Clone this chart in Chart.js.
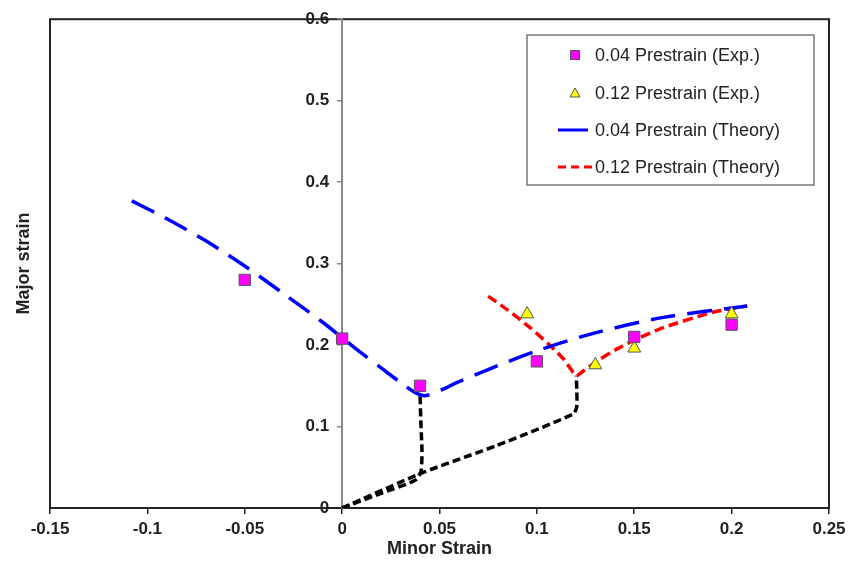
<!DOCTYPE html>
<html>
<head>
<meta charset="utf-8">
<script src="https://cdn.jsdelivr.net/npm/chart.js@4/dist/chart.umd.min.js"></script>
<style>
  html, body { margin: 0; padding: 0; background: #fff; }
  #wrap { width: 861px; height: 562px; }
</style>
</head>
<body>
<div id="wrap"><canvas id="c" width="861" height="562"></canvas></div>
<script>
// ---- Data ----
const xTicks = [-0.15, -0.1, -0.05, 0, 0.05, 0.1, 0.15, 0.2, 0.25];
const yTicks = [0, 0.1, 0.2, 0.3, 0.4, 0.5, 0.6];

const exp004X = [-0.05, 0, 0.04, 0.1, 0.15, 0.2];
const exp004Y = [0.28, 0.208, 0.150, 0.180, 0.210, 0.225];

const exp012X = [0.095, 0.13, 0.15, 0.2];
const exp012Y = [0.238, 0.1755, 0.196, 0.238];

const th004X = [-0.108, -0.09, -0.07, -0.05, -0.03, -0.01, 0, 0.01, 0.02, 0.03, 0.038, 0.043, 0.05, 0.06, 0.075, 0.1, 0.13, 0.165, 0.208];
const th004Y = [0.377, 0.355, 0.328, 0.297, 0.263, 0.228, 0.209, 0.190, 0.172, 0.154, 0.141, 0.138, 0.144, 0.155, 0.170, 0.193, 0.215, 0.234, 0.248];

const th012X = [0.075, 0.085, 0.0965, 0.107, 0.114, 0.1202, 0.124, 0.132, 0.141, 0.15, 0.165, 0.19, 0.208];
const th012Y = [0.260, 0.243, 0.2215, 0.199, 0.182, 0.1624, 0.1685, 0.182, 0.195, 0.206, 0.2215, 0.240, 0.248];

const path1X = [0, 0.02, 0.0375, 0.0405, 0.041, 0.0405, 0.040];
const path1Y = [0, 0.018, 0.034, 0.045, 0.07, 0.10, 0.139];

const path2X = [0, 0.042, 0.0794, 0.1188, 0.1205, 0.1205, 0.1202];
const path2Y = [0, 0.044, 0.0767, 0.1155, 0.125, 0.145, 0.1624];

const seriesLabels = ['0.04 Prestrain (Exp.)', '0.12 Prestrain (Exp.)', '0.04 Prestrain (Theory)', '0.12 Prestrain (Theory)'];

const pts = (xs, ys) => xs.map((x, i) => ({ x: x, y: ys[i] }));
const fmt = v => String(parseFloat(Number(v).toFixed(2)));
const FONT = "'Liberation Sans', Arial, sans-serif";
const Y_LABEL_SHIFT = 13;

// ---- Plugins: plot frame, y-label offset and boxed legend ----
const framePlugin = {
  id: 'frame',
  beforeDraw(chart) {
    const { ctx, chartArea: a } = chart;
    ctx.save();
    ctx.fillStyle = '#fff';
    ctx.fillRect(0, 0, chart.width, chart.height);
    ctx.strokeStyle = '#222';
    ctx.lineWidth = 2;
    ctx.strokeRect(a.left, a.top, a.right - a.left, a.bottom - a.top);
    ctx.restore();
  }
};

const yLabelShiftPlugin = {
  id: 'yLabelShift',
  afterLayout(chart) {
    const s = chart.scales.y;
    if (!s || s._shiftPatched) return;
    const orig = s._computeLabelItems.bind(s);
    s._computeLabelItems = function (ca) {
      const items = orig(ca);
      items.forEach(it => {
        if (it.options && it.options.translation) it.options.translation[0] -= Y_LABEL_SHIFT;
      });
      return items;
    };
    s._shiftPatched = true;
  }
};

const legendPlugin = {
  id: 'boxLegend',
  afterDraw(chart) {
    const ctx = chart.ctx;
    const ds = chart.data.datasets;
    const bx = 527, by = 35, bw = 287, bh = 150;
    const rows = [55, 93, 130, 167];
    const mx = 575, tx = 595;
    ctx.save();
    ctx.fillStyle = '#fff';
    ctx.fillRect(bx, by, bw, bh);
    ctx.strokeStyle = '#777';
    ctx.lineWidth = 1.5;
    ctx.strokeRect(bx, by, bw, bh);
    // square
    ctx.fillStyle = ds[0].backgroundColor;
    ctx.strokeStyle = ds[0].borderColor;
    ctx.lineWidth = 1;
    ctx.fillRect(mx - 4.5, rows[0] - 4.5, 9, 9);
    ctx.strokeRect(mx - 4.5, rows[0] - 4.5, 9, 9);
    // triangle
    ctx.beginPath();
    ctx.moveTo(mx, rows[1] - 5);
    ctx.lineTo(mx + 5, rows[1] + 4);
    ctx.lineTo(mx - 5, rows[1] + 4);
    ctx.closePath();
    ctx.fillStyle = ds[1].backgroundColor;
    ctx.strokeStyle = ds[1].borderColor;
    ctx.fill();
    ctx.stroke();
    // blue solid
    ctx.strokeStyle = ds[2].borderColor;
    ctx.lineWidth = 3;
    ctx.beginPath();
    ctx.moveTo(558, rows[2]);
    ctx.lineTo(588, rows[2]);
    ctx.stroke();
    // red dashed
    ctx.strokeStyle = ds[3].borderColor;
    ctx.setLineDash([8, 5]);
    ctx.beginPath();
    ctx.moveTo(558, rows[3]);
    ctx.lineTo(594, rows[3]);
    ctx.stroke();
    ctx.setLineDash([]);
    // text
    ctx.fillStyle = '#222';
    ctx.font = '18px ' + FONT;
    ctx.textBaseline = 'middle';
    ctx.textAlign = 'left';
    for (let i = 0; i < 4; i++) ctx.fillText(ds[i].label, tx, rows[i] + 1);
    ctx.restore();
  }
};

new Chart(document.getElementById('c'), {
  type: 'scatter',
  data: {
    datasets: [
      { label: seriesLabels[0], data: pts(exp004X, exp004Y), pointStyle: 'rect', pointRadius: 8, pointHoverRadius: 8,
        backgroundColor: '#FF00FF', borderColor: '#555555', borderWidth: 1, showLine: false },
      { label: seriesLabels[1], data: pts(exp012X, exp012Y), pointStyle: 'triangle', pointRadius: 7.5, pointHoverRadius: 7.5,
        backgroundColor: '#FFFF00', borderColor: '#555555', borderWidth: 1, showLine: false },
      { label: seriesLabels[2], data: pts(th004X, th004Y), showLine: true, pointRadius: 0, borderColor: '#0000FF',
        backgroundColor: '#0000FF', borderWidth: 3.5, borderDash: [25, 12], tension: 0.3, fill: false },
      { label: seriesLabels[3], data: pts(th012X, th012Y), showLine: true, pointRadius: 0, borderColor: '#FF0000',
        backgroundColor: '#FF0000', borderWidth: 3.5, borderDash: [10, 5], tension: 0.2, fill: false },
      { label: 'path1', data: pts(path1X, path1Y), showLine: true, pointRadius: 0, borderColor: '#000000',
        borderWidth: 3.5, borderDash: [8, 4], tension: 0.2, fill: false },
      { label: 'path2', data: pts(path2X, path2Y), showLine: true, pointRadius: 0, borderColor: '#000000',
        borderWidth: 3.5, borderDash: [8, 4], tension: 0.2, fill: false }
    ]
  },
  options: {
    responsive: false,
    animation: false,
    events: [],
    layout: { padding: { top: 17, right: 32, bottom: 0, left: 0 } },
    plugins: {
      legend: { display: false },
      tooltip: { enabled: false }
    },
    scales: {
      x: {
        type: 'linear', position: 'bottom', min: xTicks[0], max: xTicks[xTicks.length - 1],
        afterBuildTicks: s => { s.ticks = xTicks.map(v => ({ value: v })); },
        ticks: { callback: fmt, color: '#222', font: { family: FONT, size: 17, weight: 'bold' }, padding: 5, maxRotation: 0, autoSkip: false },
        grid: { drawOnChartArea: false, drawTicks: true, tickLength: 6, color: '#222', lineWidth: 1.5 },
        border: { display: true, color: '#222', width: 2 },
        title: { display: true, text: 'Minor Strain', color: '#222', font: { family: FONT, size: 18, weight: 'bold' }, padding: { top: 0, bottom: 2 } },
        afterFit: s => { s.height = 54; }
      },
      y: {
        type: 'linear', position: { x: 0 }, min: yTicks[0], max: yTicks[yTicks.length - 1],
        afterBuildTicks: s => { s.ticks = yTicks.map(v => ({ value: v })); },
        ticks: { callback: fmt, color: '#222', font: { family: FONT, size: 17, weight: 'bold' }, padding: 9, autoSkip: false },
        grid: { drawOnChartArea: false, drawTicks: true, tickLength: 4, color: '#888', lineWidth: 1.5 },
        border: { display: true, color: '#888', width: 2 }
      },
      yTitle: {
        type: 'linear', position: 'left', min: 0, max: 1, display: true,
        ticks: { display: false }, grid: { display: false }, border: { display: false },
        title: { display: true, text: 'Major strain', color: '#222', font: { family: FONT, size: 18, weight: 'bold' }, padding: { top: 13, bottom: 0 } },
        afterFit: s => { s.width = 50; }
      }
    }
  },
  plugins: [framePlugin, yLabelShiftPlugin, legendPlugin]
});
</script>
</body>
</html>
